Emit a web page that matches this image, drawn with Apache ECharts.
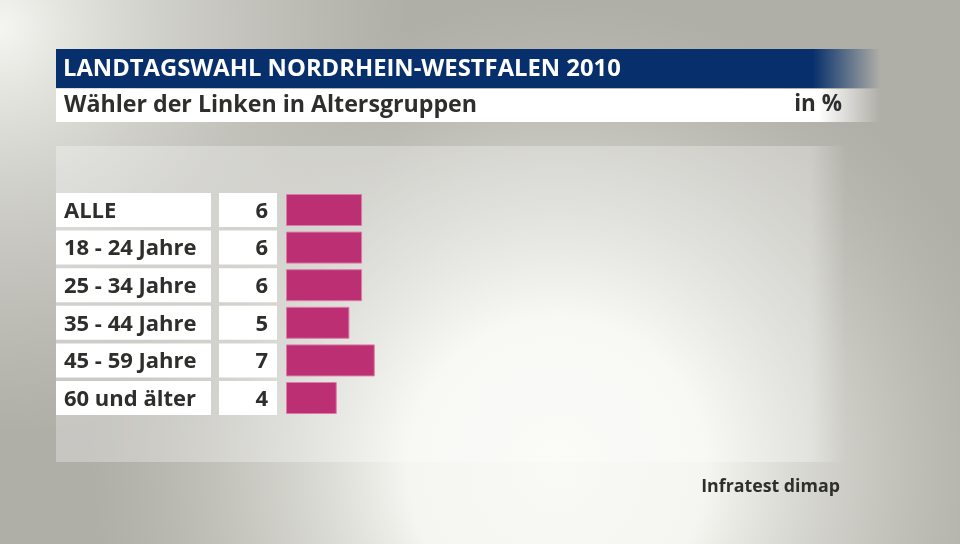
<!DOCTYPE html>
<html>
<head>
<meta charset="utf-8">
<script src="https://cdn.jsdelivr.net/npm/echarts@6/dist/echarts.min.js"></script>
<style>html,body{margin:0;padding:0;}#c{width:960px;height:544px;}</style>
</head>
<body>
<div id="c"></div>
<script>
const categories = ['ALLE', '18 - 24 Jahre', '25 - 34 Jahre', '35 - 44 Jahre', '45 - 59 Jahre', '60 und älter'];
const values = [6, 6, 6, 5, 7, 4];
const titleText = 'LANDTAGSWAHL NORDRHEIN-WESTFALEN 2010';
const subtitleText = 'Wähler der Linken in Altersgruppen';
const unitText = 'in %';
const sourceText = 'Infratest dimap';

const FONT = '"Open Sans", "Noto Sans", sans-serif';
const chart = echarts.init(document.getElementById('c'));

chart.setOption({
  animation: false,
  graphic: [
    { type: 'rect', z: -10, silent: true, shape: { x: 0, y: 0, width: 960, height: 544 }, style: { fill: '#afaea7' } },
    { type: 'rect', z: -9, silent: true, shape: { x: 0, y: 0, width: 960, height: 544 },
      style: { fill: new echarts.graphic.RadialGradient(0.58, 0.86, 0.86, [
        { offset: 0, color: 'rgba(249,250,245,1)' },
        { offset: 0.32, color: 'rgba(247,248,243,0.97)' },
        { offset: 0.64, color: 'rgba(222,222,216,0.6)' },
        { offset: 1, color: 'rgba(200,200,193,0)' }
      ]) } },
    { type: 'rect', z: -8, silent: true, shape: { x: 0, y: 0, width: 960, height: 544 },
      style: { fill: new echarts.graphic.RadialGradient(0.0, 0.05, 0.75, [
        { offset: 0, color: 'rgba(245,245,241,1)' },
        { offset: 0.4, color: 'rgba(230,230,225,0.6)' },
        { offset: 1, color: 'rgba(220,220,214,0)' }
      ]) } },
    { type: 'rect', z: -7, silent: true, shape: { x: 56, y: 146, width: 790, height: 316 },
      style: { fill: new echarts.graphic.LinearGradient(0, 0, 1, 0, [
        { offset: 0, color: 'rgba(255,255,255,0.3)' },
        { offset: 0.955, color: 'rgba(255,255,255,0.3)' },
        { offset: 1, color: 'rgba(255,255,255,0)' }
      ]) } },
    { type: 'rect', z: 1, silent: true, shape: { x: 56, y: 49, width: 824, height: 39 },
      style: { fill: new echarts.graphic.LinearGradient(0, 0, 1, 0, [
        { offset: 0, color: '#062f6b' },
        { offset: 0.918, color: '#062f6b' },
        { offset: 1, color: 'rgba(6,47,107,0)' }
      ]) } },
    { type: 'text', z: 2, silent: true,
      style: { x: 63, y: 69, text: titleText, fill: '#ffffff', font: 'bold 23.8px ' + FONT, verticalAlign: 'middle' } },
    { type: 'rect', z: 1, silent: true, shape: { x: 56, y: 89, width: 824, height: 33 },
      style: { fill: new echarts.graphic.LinearGradient(0, 0, 1, 0, [
        { offset: 0, color: '#ffffff' },
        { offset: 0.925, color: '#ffffff' },
        { offset: 1, color: 'rgba(255,255,255,0)' }
      ]) } },
    { type: 'text', z: 2, silent: true,
      style: { x: 64, y: 105, text: subtitleText, fill: '#2e2e2c', font: 'bold 23.2px ' + FONT, verticalAlign: 'middle' } },
    { type: 'text', z: 2, silent: true,
      style: { x: 842, y: 105, text: unitText, fill: '#2e2e2c', font: 'bold 22.5px ' + FONT, verticalAlign: 'middle', align: 'right' } },
    { type: 'text', z: 2, silent: true,
      style: { x: 840, y: 487, text: sourceText, fill: '#2e2e2c', font: 'bold 17.8px ' + FONT, verticalAlign: 'middle', align: 'right' } }
  ],
  grid: { left: 286, top: 191.2, width: 634, height: 225.6, containLabel: false },
  xAxis: { type: 'value', min: 0, max: 50, show: false },
  yAxis: [
    {
      type: 'category', data: categories, inverse: true, position: 'left',
      axisLine: { show: false }, axisTick: { show: false }, splitLine: { show: false },
      axisLabel: {
        margin: 75,
        formatter: v => '{a|' + v + '}',
        rich: { a: { width: 147, height: 31, lineHeight: 31, padding: [3, 0, 0, 8], backgroundColor: '#ffffff',
          align: 'left', color: '#2e2e2c', fontFamily: FONT, fontWeight: 'bold', fontSize: 22 } }
      }
    },
    {
      type: 'category', data: categories, inverse: true, position: 'left',
      axisLine: { show: false }, axisTick: { show: false }, splitLine: { show: false },
      axisLabel: {
        margin: 9,
        formatter: (v, i) => '{b|' + values[i] + '}',
        rich: { b: { width: 49, height: 31, lineHeight: 31, padding: [3, 9, 0, 0], backgroundColor: '#ffffff',
          align: 'right', color: '#2e2e2c', fontFamily: FONT, fontWeight: 'bold', fontSize: 22 } }
      }
    }
  ],
  series: [{
    type: 'bar', data: values, barWidth: 32, yAxisIndex: 0,
    itemStyle: { color: '#bc2f72', borderColor: '#dc7ca6', borderWidth: 1 }
  }]
});
</script>
</body>
</html>
